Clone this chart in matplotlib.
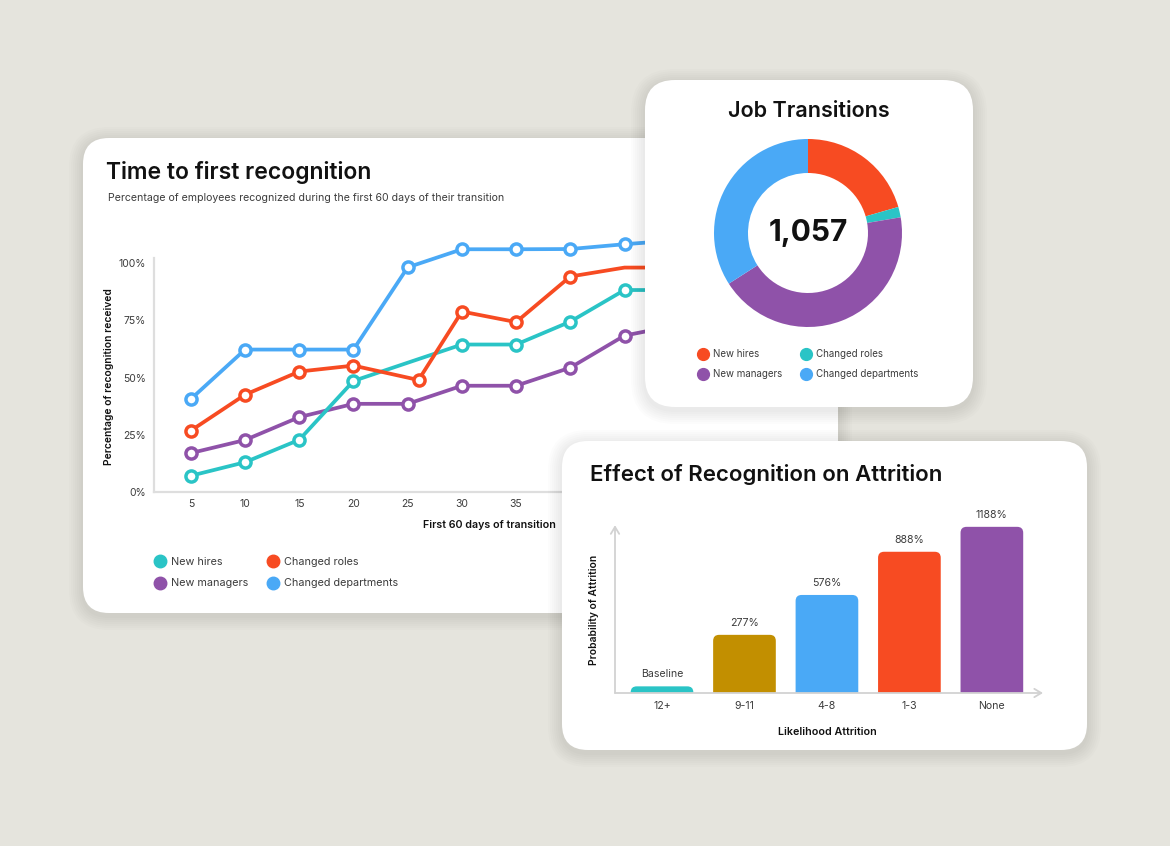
import matplotlib
matplotlib.use("Agg")
import matplotlib.pyplot as plt
from matplotlib.patches import FancyBboxPatch
from matplotlib.lines import Line2D

plt.rcParams["font.family"] = ["Inter", "DejaVu Sans"]

# ---- data -------------------------------------------------------------
days = [5, 10, 15, 20, 25, 30, 35, 40, 45, 50]
red_days = [5, 10, 15, 20, 26, 30, 35, 40, 45, 50]
teal_days = [5, 10, 15, 20, 30, 35, 40, 45, 50]
new_hires = [7.1, 13.0, 22.8, 48.5, 64.4, 64.4, 74.4, 88.2, 88.2]
changed_roles = [26.8, 42.5, 52.6, 55.2, 48.9, 78.8, 74.2, 94.1, 98.0, 98.0]
new_managers = [17.0, 22.7, 32.7, 38.5, 38.5, 46.4, 46.4, 54.3, 68.3, 73.0]
changed_depts = [40.6, 62.2, 62.2, 62.2, 98.1, 106.0, 106.0, 106.1, 108.2, 110.0]
x_ticks = [5, 10, 15, 20, 25, 30, 35, 40, 45, 50, 55, 60]
y_ticks = [0, 25, 50, 75, 100]

donut_labels = ["New hires", "Changed roles", "New managers", "Changed departments"]
donut_values = [217, 19, 461, 360]

bar_cats = ["12+", "9-11", "4-8", "1-3", "None"]
bar_heights = [4, 35, 59, 85, 100]
bar_texts = ["Baseline", "277%", "576%", "888%", "1188%"]

# ---- colours ----------------------------------------------------------
TEAL = "#2ac4c6"
RED = "#f74b22"
PURPLE = "#8f52a9"
BLUE = "#4aa9f6"
GOLD = "#c28f00"
BG = "#e5e4dd"
INK = "#111111"
GREY = "#3c3c3c"

W, H = 1170, 846
fig = plt.figure(figsize=(W / 100, H / 100), dpi=100)
fig.patch.set_facecolor(BG)


def add_ax(x0, y0, x1, y1, z):
    ax = fig.add_axes([x0 / W, 1 - y1 / H, (x1 - x0) / W, (y1 - y0) / H])
    ax.set_zorder(z)
    ax.patch.set_alpha(0)
    return ax


def card(x0, y0, x1, y1, r, z):
    # soft shadow
    for i in range(1, 8):
        g = i * 2.0
        sh = FancyBboxPatch(((x0 - g) / 100, (H - y1 - g - 3) / 100),
                            (x1 - x0 + 2 * g) / 100, (y1 - y0 + 2 * g) / 100,
                            boxstyle=f"round,pad=0,rounding_size={(r + g) / 100}",
                            transform=fig.dpi_scale_trans, fc="black", ec="none",
                            alpha=0.012, zorder=z - 0.5)
        fig.add_artist(sh)
    p = FancyBboxPatch((x0 / 100, (H - y1) / 100), (x1 - x0) / 100, (y1 - y0) / 100,
                       boxstyle=f"round,pad=0,rounding_size={r / 100}",
                       transform=fig.dpi_scale_trans, fc="white", ec="none", zorder=z)
    fig.add_artist(p)


def ftext(x, y, s, z, **kw):
    fig.text(x / W, 1 - y / H, s, zorder=z, **kw)


# ---- card 1: line chart ----------------------------------------------
card(83, 138, 838, 613, 26, 1)
ftext(106, 172, "Time to first recognition", 2, fontsize=16.5, weight="semibold",
      color=INK, va="center")
ftext(108, 198, "Percentage of employees recognized during the first 60 days of their transition",
      2, fontsize=7.6, color=GREY, va="center")
ftext(109, 377, "Percentage of recognition received", 2, fontsize=7.4, weight="semibold",
      color=INK, rotation=90, ha="center", va="center")
ftext(489, 525, "First 60 days of transition", 2, fontsize=7.7, weight="semibold",
      color=INK, ha="center", va="center")

ax1 = add_ax(154, 230, 824, 492, 2)
ax1.set_xlim(1.6, 63.4)
ax1.set_ylim(0, (492 - 230) / 2.29)
mk = dict(marker="o", markersize=8, markerfacecolor="white", markeredgewidth=2.5, lw=2.7,
          solid_joinstyle="round")
ax1.plot(days, new_managers, color=PURPLE, zorder=2, **mk)
ax1.plot(teal_days, new_hires, color=TEAL, zorder=3, **mk)
ax1.plot(red_days, changed_roles, color=RED, zorder=4, markevery=[0, 1, 2, 3, 4, 5, 6, 7], **mk)
ax1.plot(days, changed_depts, color=BLUE, zorder=5, **mk)
for side in ["top", "right"]:
    ax1.spines[side].set_visible(False)
for side in ["left", "bottom"]:
    ax1.spines[side].set_color("#dedede")
    ax1.spines[side].set_linewidth(1.6)
ax1.spines["left"].set_bounds(0, 102)
ax1.set_xticks(x_ticks)
ax1.set_yticks(y_ticks)
ax1.set_yticklabels([f"{v}%" for v in y_ticks])
ax1.tick_params(length=0, labelsize=7.5, labelcolor=GREY)
ax1.tick_params(axis="y", pad=6)
ax1.tick_params(axis="x", pad=5)

leg_handles = [Line2D([], [], ls="none", marker="o", markersize=9, color=c)
               for c in [TEAL, PURPLE, RED, BLUE]]
leg_labels = ["New hires", "New managers", "Changed roles", "Changed departments"]
leg1 = ax1.legend(leg_handles, leg_labels, ncol=2, frameon=False, fontsize=7.8,
                  loc="upper left", bbox_to_anchor=(155 / W, 1 - 557 / H),
                  bbox_transform=fig.transFigure, handlelength=0.9, handletextpad=0.55,
                  columnspacing=1.9, labelspacing=1.05, borderaxespad=0, borderpad=0)
for t in leg1.get_texts():
    t.set_color(GREY)

# ---- card 2: donut ------------------------------------------------------
card(645, 80, 973, 407, 30, 3)
ftext(809, 111, "Job Transitions", 4, fontsize=15.5, weight="semibold", color=INK,
      ha="center", va="center")
ax2 = add_ax(708, 133, 908, 333, 4)
ax2.pie(donut_values, colors=[RED, TEAL, PURPLE, BLUE], startangle=90, counterclock=False,
        radius=0.94, wedgeprops=dict(width=0.34, edgecolor="none"))
ax2.set_xlim(-1, 1)
ax2.set_ylim(-1, 1)
ax2.set_aspect("equal")
ax2.text(0, 0, f"{sum(donut_values):,}", ha="center", va="center", fontsize=21.5,
         weight="bold", color=INK)
d_handles = [Line2D([], [], ls="none", marker="o", markersize=8.5, color=c)
             for c in [RED, PURPLE, TEAL, BLUE]]
d_labels = [donut_labels[0], donut_labels[2], donut_labels[1], donut_labels[3]]
leg2 = ax2.legend(d_handles, d_labels, ncol=2, frameon=False, fontsize=7,
                  loc="upper left", bbox_to_anchor=(699 / W, 1 - 349 / H),
                  bbox_transform=fig.transFigure, handlelength=0.8, handletextpad=0.6,
                  columnspacing=2.1, labelspacing=1.05, borderaxespad=0, borderpad=0)
for t in leg2.get_texts():
    t.set_color(GREY)

# ---- card 3: bars -------------------------------------------------------
card(562, 441, 1087, 750, 26, 5)
ftext(590, 474, "Effect of Recognition on Attrition", 6, fontsize=16, weight="semibold",
      color=INK, va="center")
ftext(594, 610, "Probability of Attrition", 6, fontsize=7.4, weight="semibold", color=INK,
      rotation=90, ha="center", va="center")
ftext(827, 732, "Likelihood Attrition", 6, fontsize=7.7, weight="semibold", color=INK,
      ha="center", va="center")

bx0, by0, bx1, by1 = 615, 526, 1043, 693
ax3 = add_ax(bx0, by0, bx1, by1, 6)
xlo, xhi = -0.57, 4.62
ylo, yhi = 0, 100.5
ax3.set_xlim(xlo, xhi)
ax3.set_ylim(ylo, yhi)
px_x = (bx1 - bx0) / (xhi - xlo)
px_y = (by1 - by0) / (yhi - ylo)
bars = ax3.bar(range(len(bar_cats)), bar_heights, width=0.76,
               color=[TEAL, GOLD, BLUE, RED, PURPLE])
rad = 6 / px_x
aspect = px_x / px_y
for b in bars:
    b.set_visible(False)
    rp = FancyBboxPatch((b.get_x(), -5), b.get_width(), b.get_height() + 5,
                        boxstyle=f"round,pad=0,rounding_size={rad}", mutation_aspect=aspect,
                        fc=b.get_facecolor(), ec="none", zorder=2)
    ax3.add_patch(rp)
for i, (h, s) in enumerate(zip(bar_heights, bar_texts)):
    ax3.annotate(s, (i, h), xytext=(0, 5), textcoords="offset points", ha="center",
                 va="bottom", fontsize=7.6, color=GREY, annotation_clip=False)
for sp in ax3.spines.values():
    sp.set_visible(False)
ax3.set_xticks(range(len(bar_cats)))
ax3.set_xticklabels(bar_cats)
ax3.set_yticks([])
ax3.tick_params(length=0, labelsize=7.6, labelcolor=GREY, pad=6)
arrow = dict(arrowstyle="->,head_length=0.5,head_width=0.3", color="#d2d2d2", lw=1.3,
             shrinkA=0, shrinkB=0)
ax3.annotate("", xy=(0, 1.005), xytext=(0, 0), xycoords="axes fraction", arrowprops=arrow,
             annotation_clip=False)
ax3.annotate("", xy=(1, 0), xytext=(0, 0), xycoords="axes fraction", arrowprops=arrow,
             annotation_clip=False)

fig.savefig("out.png", dpi=100, facecolor=BG)
